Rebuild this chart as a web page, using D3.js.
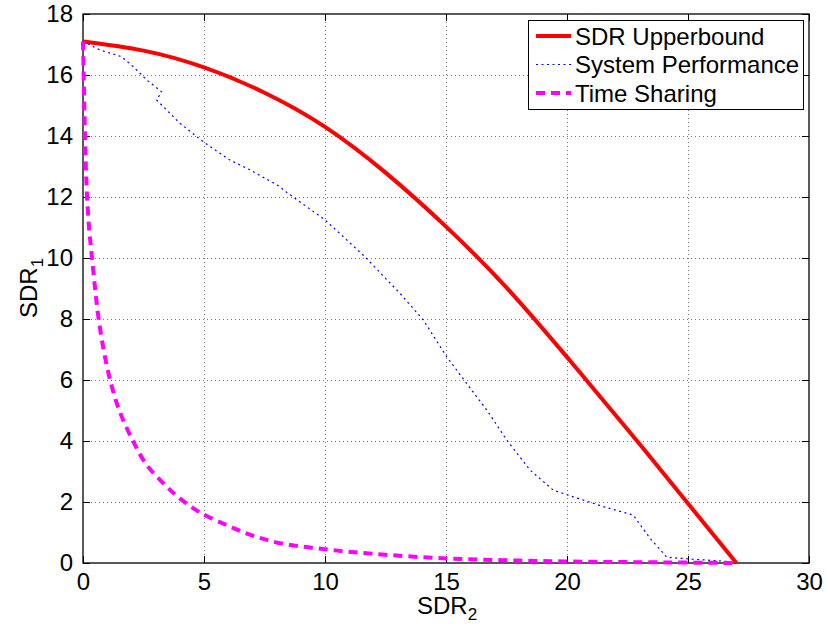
<!DOCTYPE html>
<html>
<head>
<meta charset="utf-8">
<script src="https://cdn.jsdelivr.net/npm/d3@7"></script>
<style>
  body { margin: 0; background: #fff; }
  text { font-family: "Liberation Sans", Arial, sans-serif; fill: #000; }
</style>
</head>
<body>
<svg id="chart" width="827" height="630"></svg>
<script>
// data
var upperX = [0, 2.5, 5, 7.5, 10, 12.5, 15, 17.5, 20, 22.5, 25, 27];
var upperY = [17.1, 16.8, 16.25, 15.42, 14.3, 12.8, 11.03, 9.03, 6.75, 4.38, 1.95, 0];

var perfX = [0, 0.7, 1.6, 1.67, 2.08, 2.63, 3.25, 3.04, 4.0, 4.97, 6.07, 6.9, 8.14, 8.28, 10, 11.65, 13.1, 14.06, 15.03, 15.85, 16.68, 17.51, 18.47, 19.43, 20.26, 21.5, 22.74, 22.88, 23.43, 23.98, 24.12, 25.08, 26.87, 27];
var perfY = [17.1, 16.82, 16.6, 16.55, 16.27, 15.84, 15.45, 15.18, 14.42, 13.81, 13.21, 12.89, 12.34, 12.23, 11.25, 10.04, 8.84, 7.97, 6.76, 5.89, 5.02, 4.03, 3.05, 2.39, 2.17, 1.85, 1.57, 1.41, 0.81, 0.32, 0.19, 0.13, 0.04, 0];

var shareX = [0, 0.04, 0.08, 0.15, 0.25, 0.36, 0.5, 0.63, 0.85, 1.12, 1.5, 2.08, 2.6, 3.32, 4, 4.83, 6, 7, 8.14, 10, 12, 15, 18, 21, 24, 27];
var shareY = [17.1, 15.5, 14.1, 12.3, 11.0, 10.1, 9.0, 8.1, 7.0, 6.0, 5.0, 3.98, 3.25, 2.61, 2.12, 1.66, 1.22, 0.9, 0.65, 0.45, 0.3, 0.15, 0.08, 0.04, 0.02, 0];

var xTicks = [0, 5, 10, 15, 20, 25, 30];
var yTicks = [0, 2, 4, 6, 8, 10, 12, 14, 16, 18];
var seriesNames = ["SDR Upperbound", "System Performance", "Time Sharing"];

var svg = d3.select("#chart");
var pLeft = 83, pRight = 809, pTop = 14, pBottom = 563;

var x = d3.scaleLinear().domain([0, 30]).range([pLeft, pRight]);
var y = d3.scaleLinear().domain([0, 18]).range([pBottom, pTop]);

// grid
var grid = svg.append("g").attr("stroke", "#777").attr("stroke-width", 1)
    .attr("stroke-dasharray", "1,3");
grid.selectAll(".gx").data(xTicks.slice(1, -1)).enter().append("line")
    .attr("x1", function (d) { return Math.round(x(d)) + 0.5; })
    .attr("x2", function (d) { return Math.round(x(d)) + 0.5; })
    .attr("y1", pTop).attr("y2", pBottom);
grid.selectAll(".gy").data(yTicks.slice(1, -1)).enter().append("line")
    .attr("y1", function (d) { return Math.round(y(d)) + 0.5; })
    .attr("y2", function (d) { return Math.round(y(d)) + 0.5; })
    .attr("x1", pLeft).attr("x2", pRight);

// axes, MATLAB style: ticks inside, on all four sides
function styleAxis(g) {
    g.select(".domain").remove();
    g.selectAll("line").attr("stroke", "#000");
    g.selectAll("text").style("font-size", "24px")
        .style("font-family", "'Liberation Sans', Arial, sans-serif");
}
svg.append("g").attr("transform", "translate(0," + pBottom + ")")
    .call(d3.axisBottom(x).tickValues(xTicks).tickSize(-7).tickPadding(10))
    .call(styleAxis);
svg.append("g").attr("transform", "translate(0," + pTop + ")")
    .call(d3.axisTop(x).tickValues(xTicks).tickSize(-7).tickFormat(""))
    .call(styleAxis);
svg.append("g").attr("transform", "translate(" + pLeft + ",0)")
    .call(d3.axisLeft(y).tickValues(yTicks).tickSize(-7).tickPadding(10))
    .call(styleAxis);
svg.append("g").attr("transform", "translate(" + pRight + ",0)")
    .call(d3.axisRight(y).tickValues(yTicks).tickSize(-7).tickFormat(""))
    .call(styleAxis);

svg.append("rect").attr("x", pLeft).attr("y", pTop)
    .attr("width", pRight - pLeft).attr("height", pBottom - pTop)
    .attr("fill", "none").attr("stroke", "#000").attr("stroke-width", 1.3);

// lines
function mkLine(curve) {
    return d3.line()
        .x(function (d) { return x(d[0]); })
        .y(function (d) { return y(d[1]); })
        .curve(curve);
}

var plot = svg.append("g");
plot.append("path")
    .attr("d", mkLine(d3.curveLinear)(d3.zip(perfX, perfY)))
    .attr("fill", "none").attr("stroke", "#0000ff").attr("stroke-width", 1.2)
    .attr("stroke-dasharray", "2,3.5");
plot.append("path")
    .attr("d", mkLine(d3.curveNatural)(d3.zip(upperX, upperY)))
    .attr("fill", "none").attr("stroke", "#ff0000").attr("stroke-width", 4);
plot.append("path")
    .attr("d", mkLine(d3.curveCatmullRom.alpha(0.5))(d3.zip(shareX, shareY)))
    .attr("fill", "none").attr("stroke", "#ff00ff").attr("stroke-width", 4)
    .attr("stroke-dasharray", "9,6");

// legend
var leg = svg.append("g");
leg.append("rect").attr("x", 528.5).attr("y", 20.5).attr("width", 275).attr("height", 89)
    .attr("fill", "#fff").attr("stroke", "#000").attr("stroke-width", 1);
var legStyles = [
    { stroke: "#ff0000", width: 4, dash: null },
    { stroke: "#0000ff", width: 1.2, dash: "2,3.5" },
    { stroke: "#ff00ff", width: 4, dash: "9,6" }
];
seriesNames.forEach(function (name, i) {
    var cy = 36 + i * 28.5;
    leg.append("line").attr("x1", 536).attr("x2", 571).attr("y1", cy).attr("y2", cy)
        .attr("stroke", legStyles[i].stroke).attr("stroke-width", legStyles[i].width)
        .attr("stroke-dasharray", legStyles[i].dash);
    leg.append("text").attr("x", 575).attr("y", cy + 8.5)
        .style("font-size", "24px").text(name);
});

// axis labels
var xl = svg.append("text").attr("x", 417).attr("y", 614).style("font-size", "24px");
xl.append("tspan").text("SDR");
xl.append("tspan").attr("dy", 6).style("font-size", "17px").text("2");

var yl = svg.append("text").attr("transform", "translate(37,318) rotate(-90)")
    .style("font-size", "24px");
yl.append("tspan").text("SDR");
yl.append("tspan").attr("dy", 6).style("font-size", "17px").text("1");
</script>
</body>
</html>
